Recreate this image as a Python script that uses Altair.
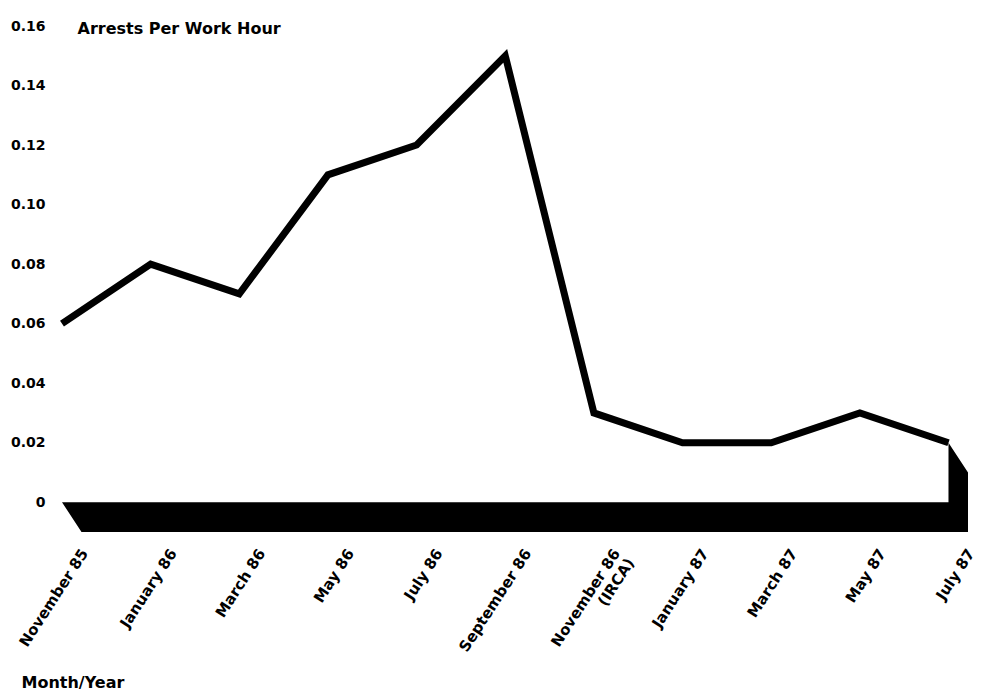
import json
import altair as alt
import pandas as pd

# ---- data ----
months = ["November 85", "January 86", "March 86", "May 86", "July 86",
          "September 86", "November 86\n(IRCA)", "January 87", "March 87",
          "May 87", "July 87"]
arrests = [0.06, 0.08, 0.07, 0.11, 0.12, 0.15, 0.03, 0.02, 0.02, 0.03, 0.02]
y_ticks = [0, 0.02, 0.04, 0.06, 0.08, 0.10, 0.12, 0.14, 0.16]

# depth of the pseudo-3D floor (style constants)
DX = 0.22   # in month steps
DY = 0.01   # in value units

idx = list(range(len(months)))
line_df = pd.DataFrame({"i": idx, "v": arrests})

n = len(months) - 1
last = arrests[-1]
floor_df = pd.DataFrame({
    "i":   [0.0, DX, n - 0.0001, n, n + DX],
    "v":   [0.0, 0.0, 0.0, last, last - DY],
    "v2":  [0.0, -DY, -DY, -DY, -DY],
})

FONT = "DejaVu Sans"

label_expr = "split(" + json.dumps(months) + "[datum.value], '\\n')"

x_scale = alt.Scale(domain=[0, n + DX], nice=False, zero=False)
y_scale = alt.Scale(domain=[-DY, 0.16], nice=False, zero=False)

x_enc = alt.X(
    "i:Q",
    scale=x_scale,
    axis=alt.Axis(
        values=idx, labelExpr=label_expr, labelAngle=-57, labelAlign="right",
        labelBaseline="middle", labelPadding=18, labelOffset=22,
        labelFont=FONT, labelFontWeight="bold", labelFontSize=15,
        labelColor="black", labelOverlap=False, labelBound=False,
        domain=False, ticks=False, grid=False,
        title="Month/Year", titleFont=FONT, titleFontWeight="bold",
        titleFontSize=16, titleColor="black", titleAnchor="start",
        titleAlign="left", titleBaseline="middle", titleX=-41, titleY=150,
    ),
)
y_enc = alt.Y(
    "v:Q",
    scale=y_scale,
    axis=alt.Axis(
        values=y_ticks,
        labelExpr="datum.value == 0 ? '0' : format(datum.value, '.2f')",
        labelFont=FONT, labelFontWeight="bold", labelFontSize=14,
        labelColor="black", labelPadding=17,
        domain=False, ticks=False, grid=False,
        title="Arrests Per Work Hour", titleAngle=0, titleFont=FONT,
        titleFontWeight="bold", titleFontSize=16, titleColor="black",
        titleAlign="left", titleBaseline="middle", titleX=15, titleY=2,
    ),
)

floor = alt.Chart(floor_df).mark_area(
    color="black", fill="black", opacity=1, interpolate="linear"
).encode(
    x=x_enc, y=y_enc, y2=alt.Y2("v2:Q")
)
line = alt.Chart(line_df).mark_line(color="black", strokeWidth=7, strokeJoin="miter").encode(
    x=x_enc, y=y_enc
)

chart = alt.layer(floor, line).properties(
    width=906, height=506,
    autosize=alt.AutoSizeParams(type="none"),
    padding={"left": 62, "top": 26, "right": 13, "bottom": 159},
    background="white",
).configure_view(stroke=None)

chart.save("out.html", embed_options={"renderer": "svg", "actions": False})
